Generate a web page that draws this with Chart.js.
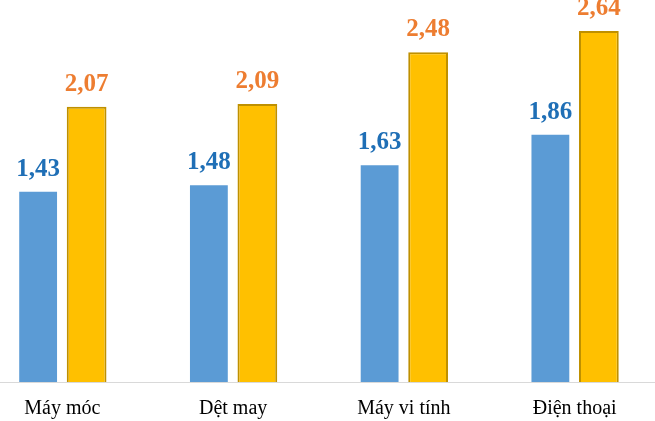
<!DOCTYPE html>
<html>
<head>
<meta charset="utf-8">
<script src="https://cdn.jsdelivr.net/npm/chart.js@4"></script>
<style>
html,body{margin:0;padding:0;background:#fff;overflow:hidden;}
body{width:655px;height:421px;position:relative;}
#wrap{position:absolute;left:-23px;top:0;width:683px;height:421px;}
</style>
</head>
<body>
<div id="wrap"><canvas id="c"></canvas></div>
<script>
const categories = ["Máy móc", "Dệt may", "Máy vi tính", "Điện thoại"];
const seriesA = [1.43, 1.48, 1.63, 1.86];
const seriesB = [2.07, 2.09, 2.48, 2.64];
const labelsA = ["1,43", "1,48", "1,63", "1,86"];
const labelsB = ["2,07", "2,09", "2,48", "2,64"];

const valueLabels = {
  id: 'valueLabels',
  afterDatasetsDraw(chart) {
    const ctx = chart.ctx;
    const sets = [{labels: labelsA, color: '#1F6FB6'}, {labels: labelsB, color: '#ED7D31'}];
    ctx.save();
    ctx.font = 'bold 25px "Liberation Serif", "Times New Roman", serif';
    ctx.textAlign = 'center';
    ctx.textBaseline = 'alphabetic';
    sets.forEach((s, di) => {
      const meta = chart.getDatasetMeta(di);
      meta.data.forEach((el, i) => {
        ctx.fillStyle = s.color;
        ctx.fillText(s.labels[i], el.x, el.y - 16);
      });
    });
    ctx.restore();
  }
};

new Chart(document.getElementById('c'), {
  type: 'bar',
  data: {
    labels: categories,
    datasets: [
      {data: seriesA, backgroundColor: '#5B9BD5', borderWidth: 0,
       categoryPercentage: 0.568, barPercentage: 0.78},
      {data: seriesB, backgroundColor: '#FFC000', borderColor: '#BF9000', borderWidth: 2,
       categoryPercentage: 0.568, barPercentage: 0.82}
    ]
  },
  options: {
    responsive: true,
    maintainAspectRatio: false,
    animation: false,
    layout: {padding: 0},
    plugins: {legend: {display: false}, tooltip: {enabled: false}},
    scales: {
      x: {
        grid: {display: false, drawTicks: false},
        border: {display: true, color: '#D9D9D9', width: 1},
        ticks: {color: '#000', padding: 15, font: {family: '"Liberation Serif", "Times New Roman", serif', size: 20}},
        afterFit(s) { s.height = 39; }
      },
      y: {display: false, min: 0, max: 2.873}
    }
  },
  plugins: [valueLabels]
});
</script>
</body>
</html>
